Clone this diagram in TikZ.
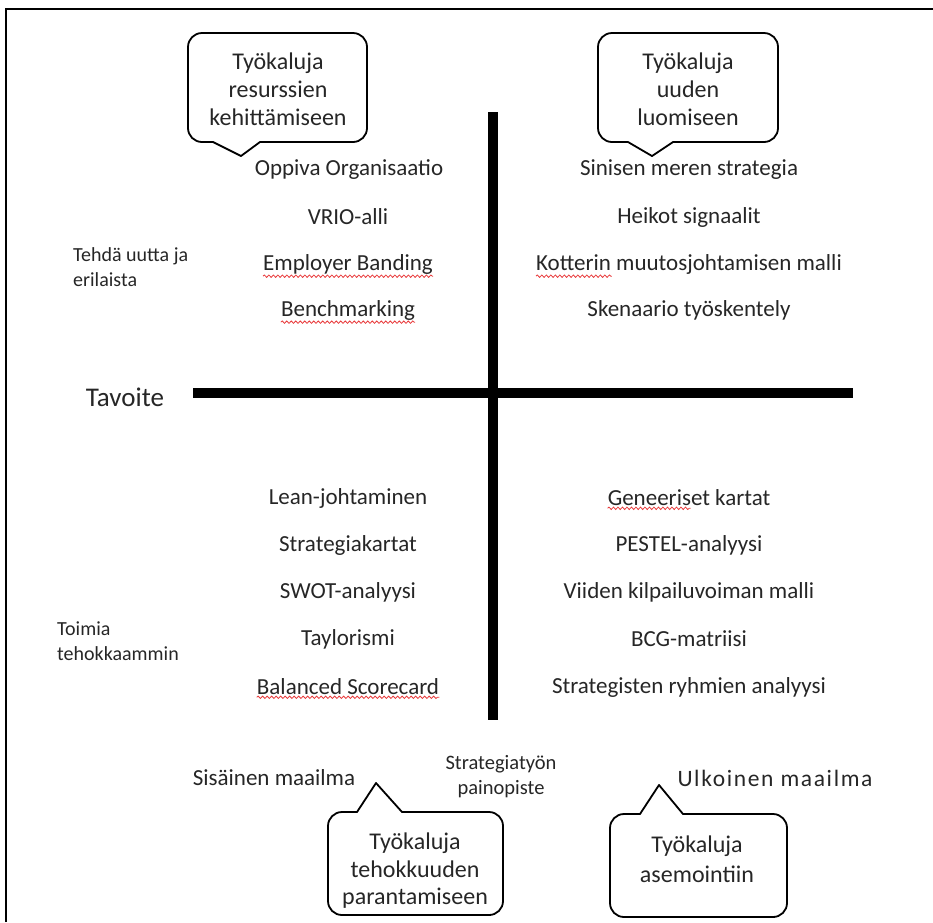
\documentclass[tikz,border=0pt]{standalone}
\usepackage{fontspec}
\setmainfont{Carlito}
\usetikzlibrary{decorations.pathmorphing,calc}
\definecolor{ink}{HTML}{262626}
\definecolor{spell}{HTML}{E8393A}
\begin{document}
\begin{tikzpicture}[x=1pt,y=-1pt,
  every node/.style={inner sep=0pt, text=ink},
  item/.style={font=\fontsize{23}{27}\selectfont, anchor=center},
  side/.style={font=\fontsize{20}{24.5}\selectfont, align=left, anchor=west},
  bubbletext/.style={font=\fontsize{24}{28}\selectfont, align=center},
  bubble/.style={draw=black, line width=1.8pt, rounded corners=14pt, line join=round},
  bar/.style={line width=10pt, draw=black},
  frameline/.style={line width=2pt, draw=black},
  squiggle/.style={draw=spell, line width=0.8pt, decorate,
    decoration={snake, amplitude=1.2pt, segment length=4.5pt}}]
\useasboundingbox (0,0) rectangle (933,922);

% page frame (top and left edges only)
\draw[frameline] (6,922) -- (6,9) -- (933,9);

% axes
\coordinate (vtop) at (493,112);
\coordinate (vbot) at (493,720);
\coordinate (hleft) at (193,393);
\coordinate (hright) at (853,393);
\draw[bar] (vtop) -- (vbot);
\draw[bar] (hleft) -- (hright);

\node[font=\fontsize{27}{30}\selectfont] (tavoite) at (125,397) {Tavoite};

% speech bubbles
\draw[bubble] (241,156) [sharp corners] -- (213,142) [rounded corners=14pt] -- (188,142) -- (188,33) -- (367,33) -- (367,142) [sharp corners] -- (260,142) -- cycle;
\node[bubbletext] (b1) at (278,89) {Työkaluja\\resurssien\\kehittämiseen};

\draw[bubble] (652,156) [sharp corners] -- (628,142) [rounded corners=14pt] -- (598,142) -- (598,33) -- (778,33) -- (778,142) [sharp corners] -- (673,142) -- cycle;
\node[bubbletext] (b2) at (688,89) {Työkaluja\\uuden\\luomiseen};

\draw[bubble] (376,783) [sharp corners] -- (402,812) [rounded corners=14pt] -- (503,812) -- (503,915) -- (328,915) -- (328,812) [sharp corners] -- (357,812) -- cycle;
\begin{scope}
\clip (330,816) rectangle (501,913);
\node[bubbletext, font=\fontsize{24}{27.5}\selectfont] (b3) at (415,871) {Työkaluja\\tehokkuuden\\parantamiseen};
\end{scope}

\draw[bubble] (659,785) [sharp corners] -- (683,814) [rounded corners=14pt] -- (787,814) -- (787,917) -- (610,917) -- (610,814) [sharp corners] -- (640,814) -- cycle;
\node[bubbletext, font=\fontsize{24}{30}\selectfont] (b4) at (697,859) {Työkaluja\\asemointiin};

% upper left quadrant
\node[item] (oppiva) at (349,170) {Oppiva Organisaatio};
\node[item] (vrio) at (348,217) {VRIO-alli};
\node[item] (employer) at (348,264) {Employer Banding};
\node[item] (bench) at (348,310) {Benchmarking};

% upper right quadrant
\node[item] (sininen) at (689,170) {Sinisen meren strategia};
\node[item] (heikot) at (689,217) {Heikot signaalit};
\node[item] (kotter) at (689,264) {Kotterin muutosjohtamisen malli};
\node[item] (skenaario) at (689,310) {Skenaario työskentely};

% lower left quadrant
\node[item] (lean) at (348,498) {Lean-johtaminen};
\node[item] (strkartat) at (348,545) {Strategiakartat};
\node[item] (swot) at (348,592) {SWOT-analyysi};
\node[item] (taylor) at (348,639) {Taylorismi};
\node[item] (bsc) at (348,687) {Balanced Scorecard};

% lower right quadrant
\node[item] (geneeriset) at (689,498) {Geneeriset kartat};
\node[item] (pestel) at (689,545) {PESTEL-analyysi};
\node[item] (viiden) at (689,592) {Viiden kilpailuvoiman malli};
\node[item] (bcg) at (689,639) {BCG-matriisi};
\node[item] (ryhmat) at (689,687) {Strategisten ryhmien analyysi};

% side labels
\node[side] (tehda) at (73,267) {Tehdä uutta ja\\erilaista};
\node[side] (toimia) at (57,641) {Toimia\\tehokkaammin};

% bottom labels
\node[item] (sisainen) at (274,778) {Sisäinen maailma};
\node[item, font=\fontsize{23.5}{27}\selectfont\addfontfeature{LetterSpace=7}] (ulkoinen) at (775,778) {Ulkoinen maailma};
\node[font=\fontsize{20.5}{25}\selectfont, align=center] (painopiste) at (501,777) {Strategiatyön\\painopiste};

% spell-check underlines
\draw[squiggle] ($(employer.south west)+(0,2)$) -- ($(employer.south east)+(0,2)$);
\draw[squiggle] ($(bench.south west)+(0,2)$) -- ($(bench.south east)+(0,2)$);
\draw[squiggle] ($(kotter.south west)+(0,2)$) -- ++(76,0);
\draw[squiggle] ($(geneeriset.south west)+(0,2)$) -- ++(83,0);
\draw[squiggle] ($(bsc.south west)+(0,2)$) -- ($(bsc.south east)+(0,2)$);
\end{tikzpicture}
\end{document}
